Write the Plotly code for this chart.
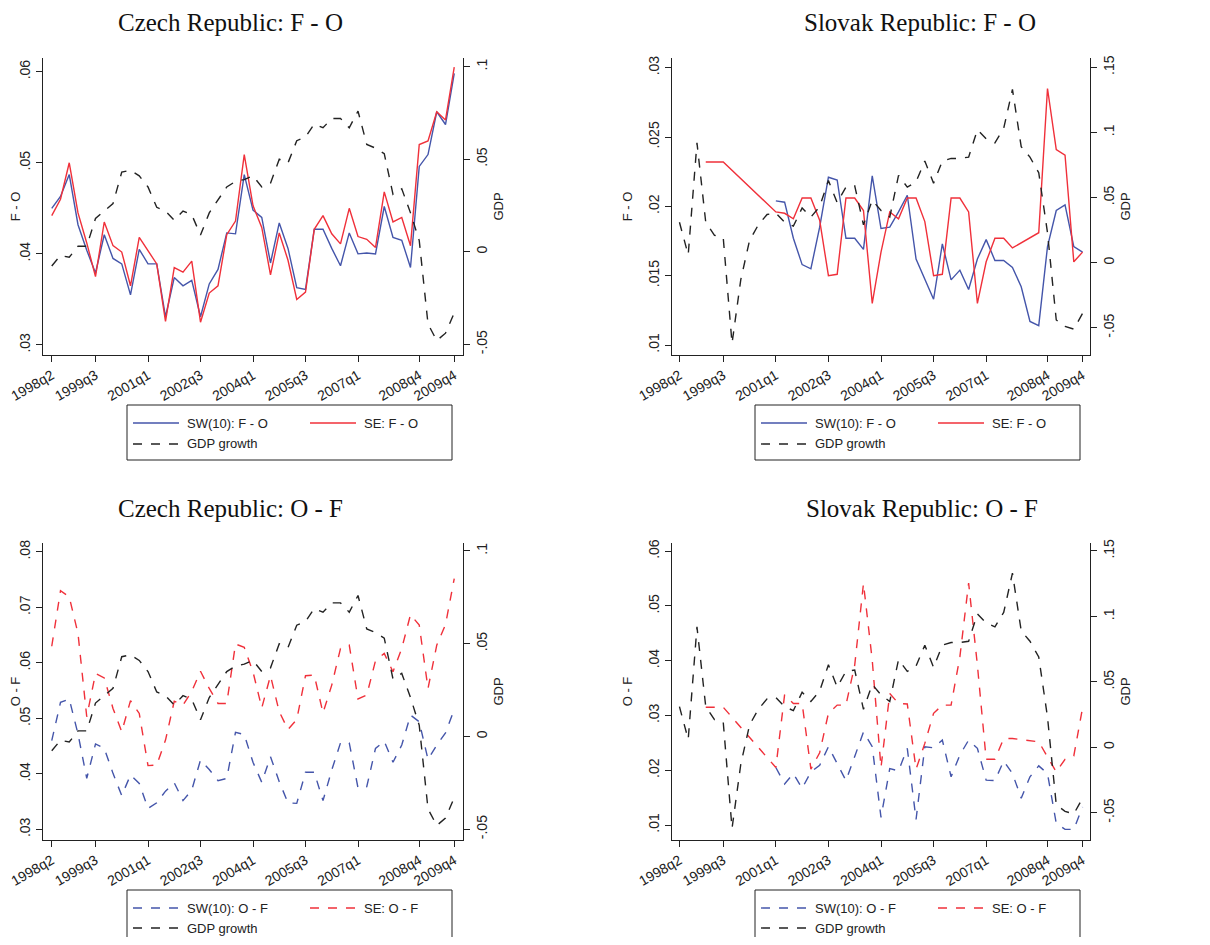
import plotly.graph_objects as go

quarters = ["1998q2","1998q3","1998q4","1999q1","1999q2","1999q3","1999q4","2000q1","2000q2","2000q3","2000q4",
            "2001q1","2001q2","2001q3","2001q4","2002q1","2002q2","2002q3","2002q4","2003q1","2003q2","2003q3","2003q4",
            "2004q1","2004q2","2004q3","2004q4","2005q1","2005q2","2005q3","2005q4","2006q1","2006q2","2006q3","2006q4",
            "2007q1","2007q2","2007q3","2007q4","2008q1","2008q2","2008q3","2008q4","2009q1","2009q2","2009q3","2009q4"]
tick_labels = ["1998q2","1999q3","2001q1","2002q3","2004q1","2005q3","2007q1","2008q4","2009q4"]
N = None

cz_gdp = [-.0077,-.002,-.003,.003,.003,.018,.022,.026,.043,.044,.041,.035,.024,.022,.017,.022,.020,.009,.021,.028,
          .035,.038,.039,.041,.035,.037,.050,.048,.060,.062,.069,.067,.072,.072,.067,.076,.058,.056,.053,.031,.034,
          .021,.006,-.039,-.048,-.044,-.033]
cz_sw_fo = [.0450,.0463,.0487,.0432,.0404,.0379,.0421,.0395,.0389,.0355,.0405,.0389,.0389,.0331,.0374,.0365,.0371,
            .0331,.0367,.0383,.0423,.0422,.0487,.0448,.0440,.0390,.0434,.0406,.0363,.0361,.0427,.0427,.0406,.0387,
            .0423,.0400,.0401,.0400,.0452,.0418,.0415,.0385,.0496,.0509,.0556,.0542,.0598]
cz_se_fo = [.0442,.0460,.0500,.0445,.0412,.0375,.0435,.0409,.0402,.0365,.0418,.0404,.0389,.0326,.0385,.0380,.0392,
            .0325,.0357,.0365,.0421,.0436,.0509,.0453,.0429,.0377,.0423,.0393,.0350,.0358,.0427,.0442,.0422,.0411,
            .0450,.0419,.0416,.0407,.0468,.0435,.0440,.0409,.0520,.0524,.0556,.0547,.0605]
cz_sw_of = [.0460,.0529,.0535,.0472,.0392,.0454,.0446,.0401,.0361,.0398,.0383,.0338,.0348,.0369,.0384,.0352,.0371,
            .0425,.0408,.0388,.0392,.0475,.0471,.0421,.0385,.0431,.0386,.0348,.0347,.0403,.0403,.0352,.0407,.0456,
            .0456,.0375,.0377,.0446,.0459,.0421,.0452,.0506,.0494,.0426,.0452,.0474,.0516]
cz_se_of = [.0630,.0730,.0719,.0653,.0503,.0581,.0573,.0518,.0476,.0532,.0509,.0415,.0416,.0461,.0531,.0524,.0549,
            .0585,.0554,.0527,.0527,.0634,.0628,.0584,.0519,.0577,.0512,.0480,.0498,.0577,.0578,.0510,.0560,.0626,
            .0632,.0535,.0542,.0604,.0617,.0584,.0626,.0687,.0668,.0554,.0632,.0669,.0752]

sk_gdp = [.031,.006,.092,.031,.021,.019,-.062,-.013,.017,.029,.037,.038,.031,.028,.042,.035,.043,.063,.046,.058,
          .059,.029,.048,.040,.035,.067,.058,.062,.078,.061,.078,.080,.080,.081,.102,.095,.092,.103,.133,.089,.081,
          .069,.023,-.044,-.049,-.051,-.039]
sk_sw_fo = [N]*11 + [.0204,.0203,.0177,.0158,.0155,.0185,.0221,.0219,.0177,.0177,.0169,.0222,.0184,.0185,.0196,
            .0208,.0162,.0147,.0133,.0173,.0147,.0154,.0140,.0162,.0176,.0161,.0161,.0156,.0142,.0117,.0114,.0171,
            .0197,.0201,.0171,.0167]
sk_se_fo = [N,N,N,.0232,.0232,.0232,N,N,N,N,N,.0196,.0195,.0191,.0206,.0206,.0190,.0150,.0151,.0206,.0206,.0197,
            .0130,.0167,.0196,.0191,.0206,.0206,.0189,.0150,.0151,.0206,.0206,.0196,.0130,.0160,.0177,.0177,.0170,
            N,N,.0181,.0285,.0241,.0237,.0160,.0167]
sk_sw_of = [N]*11 + [.0205,.0175,.0194,.0167,.0197,.0209,.0243,.0213,.0181,.0225,.0270,.0243,.0114,.0203,.0199,
            .0240,.0110,.0243,.0241,.0255,.0188,.0228,.0255,.0240,.0182,.0181,.0217,.0194,.0149,.0188,.0208,.0194,
            .0103,.0092,.0092,.0133]
sk_se_of = [N,N,N,.0315,.0315,.0315,N,N,N,N,N,.0205,.0338,.0322,.0322,.0202,.0232,.0304,.0319,.0319,.0392,.0541,
            .0401,.0205,.0340,.0322,.0321,.0202,.0249,.0304,.0319,.0319,.0407,.0542,.0392,.0220,.0220,.0258,.0258,
            N,N,.0252,.0225,.0197,.0220,.0226,.0314]

BLUE = "#4455aa"
RED = "#f0303a"
OFF = 8
W, H = 1210 - 2 * OFF, 945 - 2 * OFF
x = list(range(len(quarters)))
tickpos = [quarters.index(t) for t in tick_labels]

def fx(p): return (p - OFF) / W
def fy(p): return 1 - (p - OFF) / H

panels = [
    dict(title="Czech Republic: F - O", tx=230, box=(43, 463, 58, 355), xr=[-1, 47], yl=[.0289, .0615], yr=[-.0558, .1047],
         lt=[.03, .04, .05, .06], rt=[-.05, 0, .05, .1], ytitle="F - O", a=cz_sw_fo, b=cz_se_fo, g=cz_gdp, dash="solid",
         na="SW(10): F - O", nb="SE: F - O"),
    dict(title="Slovak Republic: F - O", tx=920, box=(672, 1090, 58, 355), xr=[-0.85, 46.85], yl=[.00928, .0307], yr=[-.0709, .1571],
         lt=[.01, .015, .02, .025, .03], rt=[-.05, 0, .05, .1, .15], ytitle="F - O", a=sk_sw_fo, b=sk_se_fo, g=sk_gdp,
         dash="solid", na="SW(10): F - O", nb="SE: F - O"),
    dict(title="Czech Republic: O - F", tx=230, box=(43, 463, 543, 840), xr=[-1, 47], yl=[.0281, .0816], yr=[-.0558, .1043],
         lt=[.03, .04, .05, .06, .07, .08], rt=[-.05, 0, .05, .1], ytitle="O - F", a=cz_sw_of, b=cz_se_of, g=cz_gdp,
         dash="dash", na="SW(10): O - F", nb="SE: O - F"),
    dict(title="Slovak Republic: O - F", tx=922, box=(672, 1090, 543, 840), xr=[-0.85, 46.85], yl=[.00726, .0615], yr=[-.0709, .1561],
         lt=[.01, .02, .03, .04, .05, .06], rt=[-.05, 0, .05, .1, .15], ytitle="O - F", a=sk_sw_of, b=sk_se_of, g=sk_gdp,
         dash="dash", na="SW(10): O - F", nb="SE: O - F"),
]

def fmt(v):
    if v == 0: return "0"
    s = ("%g" % v)
    return s.replace("0.", ".")

fig = go.Figure()
layout = dict(width=W, height=H, margin=dict(l=0, r=0, t=0, b=0, autoexpand=False), paper_bgcolor="white",
              plot_bgcolor="white", showlegend=False, font=dict(family="Liberation Sans", size=13, color="#222"))
shapes, annots = [], []
legend_offsets = [(127, 405), (755, 405), (127, 890), (755, 890)]
for k, p in enumerate(panels):
    i = k + 1
    xa = "x" if i == 1 else f"x{i}"
    yl = 2 * i - 1
    yr = 2 * i
    yla = "y" if yl == 1 else f"y{yl}"
    yra = f"y{yr}"
    x0, x1, y0, y1 = p["box"]
    common = dict(showgrid=False, zeroline=False, showline=True, linecolor="#222", linewidth=1.2, automargin=False,
                  ticks="outside", ticklen=6, tickcolor="#222", tickfont=dict(size=14), ticklabeloverflow="allow")
    layout["xaxis" if i == 1 else f"xaxis{i}"] = dict(common, domain=[fx(x0), fx(x1)], range=p["xr"], anchor=yla,
        tickvals=tickpos, ticktext=tick_labels, tickangle=-30)
    layout["yaxis" if yl == 1 else f"yaxis{yl}"] = dict(common, domain=[fy(y1), fy(y0)], range=p["yl"], anchor=xa,
        tickvals=p["lt"], ticktext=[fmt(v) for v in p["lt"]], tickangle=-90,
        title=dict(text=p["ytitle"], font=dict(size=13), standoff=10))
    layout[f"yaxis{yr}"] = dict(common, domain=[fy(y1), fy(y0)], range=p["yr"], anchor=xa, overlaying=yla, side="right",
        tickvals=p["rt"], ticktext=[fmt(v) for v in p["rt"]], tickangle=-90,
        title=dict(text="GDP", font=dict(size=13), standoff=4))
    dl = "dash" if p["dash"] == "dash" else "solid"
    fig.add_trace(go.Scatter(x=x, y=p["g"], xaxis=xa, yaxis=yra, mode="lines",
                             line=dict(color="#222", width=1.4, dash="dash"), connectgaps=True, name="GDP growth"))
    fig.add_trace(go.Scatter(x=x, y=p["a"], xaxis=xa, yaxis=yla, mode="lines",
                             line=dict(color=BLUE, width=1.4, dash=dl), connectgaps=True, name=p["na"]))
    fig.add_trace(go.Scatter(x=x, y=p["b"], xaxis=xa, yaxis=yla, mode="lines",
                             line=dict(color=RED, width=1.4, dash=dl), connectgaps=True, name=p["nb"]))
    annots.append(dict(text=p["title"], x=fx(p["tx"]), y=fy(y0 - 35), xref="paper", yref="paper",
                       showarrow=False, font=dict(family="Liberation Serif", size=25, color="#111"),
                       xanchor="center", yanchor="middle"))
    lx, ly = legend_offsets[k]
    lh = 55 if k < 2 else 50
    shapes.append(dict(type="rect", xref="paper", yref="paper", x0=fx(lx), x1=fx(lx + 325), y0=fy(ly), y1=fy(ly + lh),
                       line=dict(color="#222", width=1), fillcolor="white"))
    r1, r2 = (ly + 18, ly + 39) if k < 2 else (ly + 18, ly + 38)
    items = [(lx + 6, r1, BLUE, dl, p["na"]), (lx + 183, r1, RED, dl, p["nb"]), (lx + 6, r2, "#222", "dash", "GDP growth")]
    for sx, sy, c, d, t in items:
        shapes.append(dict(type="line", xref="paper", yref="paper", x0=fx(sx), x1=fx(sx + 46), y0=fy(sy), y1=fy(sy),
                           line=dict(color=c, width=1.4, dash=d)))
        annots.append(dict(text=t, x=fx(sx + 52), y=fy(sy), xref="paper", yref="paper", showarrow=False,
                           xanchor="left", yanchor="middle", font=dict(size=13, color="#222")))

layout["shapes"] = shapes
layout["annotations"] = annots
fig.update_layout(**layout)
fig.write_html("out.html")
